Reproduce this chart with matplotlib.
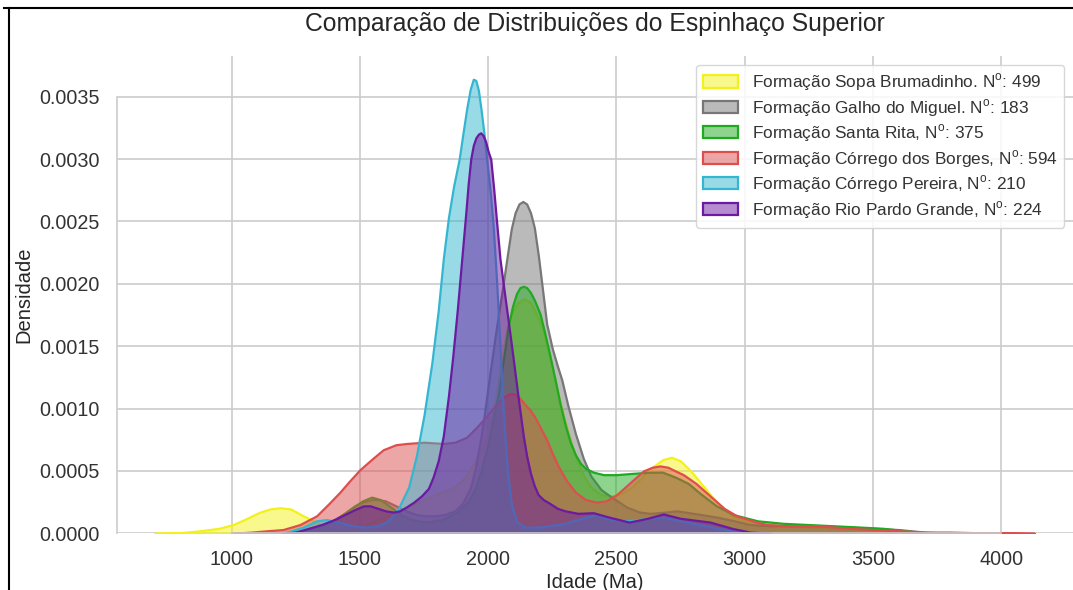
import numpy as np
import matplotlib
matplotlib.use("Agg")
import matplotlib.pyplot as plt
from matplotlib.lines import Line2D
from matplotlib.colors import to_rgba

plt.rcParams['font.family'] = ['Liberation Sans', 'DejaVu Sans']
plt.rcParams['mathtext.fontset'] = 'custom'
plt.rcParams['mathtext.rm'] = 'Liberation Sans'

# densities (age in Ma)
sopa_x = [700, 800, 876, 950, 1006, 1060, 1110, 1150, 1188, 1230, 1270, 1318, 1360, 1395,
          1450, 1500, 1560, 1620, 1680, 1721, 1780, 1830, 1868, 1910, 1950, 1975, 2000,
          2030, 2055, 2075, 2095, 2115, 2140, 2165, 2185, 2209, 2230, 2255, 2280, 2310,
          2340, 2370, 2400, 2440, 2480, 2520, 2560, 2600, 2640, 2680, 2715, 2750, 2790,
          2830, 2870, 2910, 2960, 3010, 3070, 3150, 3250, 3350, 3450, 3550, 3650, 3750]
sopa_y = [0, .000005, .00002, .00004, .00007, .00012, .00017, .000195, .000205, .000195,
          .00015, .0001, .00006, .00003, .00003, .00005, .0001, .00015, .0002, .00024,
          .0003, .00034, .00037, .00045, .00058, .00068, .0008, .0011, .00142, .00166,
          .00178, .00185, .00188, .00185, .00177, .00166, .0015, .00128, .00105, .00082,
          .00062, .00047, .00037, .00031, .0003, .00032, .00037, .00045, .00053, .00059,
          .00061, .00058, .0005, .0004, .0003, .00021, .00013, .00009, .00007, .00006,
          .00005, .00004, .00003, .00002, .00001, 0]

galho_x = [1150, 1250, 1300, 1350, 1400, 1440, 1480, 1510, 1546, 1570, 1600, 1640, 1680,
           1720, 1760, 1790, 1830, 1870, 1900, 1930, 1950, 1970, 1985, 2000, 2015, 2033,
           2055, 2072, 2090, 2105, 2120, 2135, 2150, 2165, 2180, 2196, 2212, 2228, 2250,
           2270, 2287, 2310, 2340, 2371, 2400, 2440, 2488, 2540, 2590, 2631, 2690, 2735,
           2800, 2891, 2960, 3020, 3100, 3200, 3300, 3400, 3500, 3600, 3700, 3800]
galho_y = [0, .00001, .00003, .00006, .00011, .00016, .00022, .00025, .00027, .00027,
           .00026, .00022, .00018, .00015, .00014, .00014, .00015, .00018, .00024,
           .00036, .00052, .00075, .00095, .00118, .0014, .00166, .00195, .00219, .00244,
           .00257, .00264, .00266, .00264, .00257, .00245, .00222, .00195, .00168, .00148,
           .00134, .00123, .00103, .0008, .0006, .00046, .00035, .00028, .00021, .00017,
           .00016, .00017, .00018, .00016, .00013, .0001, .00007, .00006, .00006, .00006,
           .00005, .00004, .00003, .00001, 0]

rita_x = [1200, 1300, 1400, 1460, 1510, 1546, 1580, 1620, 1660, 1700, 1760, 1820, 1880,
          1920, 1950, 1975, 2000, 2020, 2040, 2060, 2078, 2095, 2110, 2124, 2137, 2150,
          2165, 2180, 2202, 2220, 2240, 2261, 2280, 2300, 2320, 2340, 2360, 2380, 2410,
          2450, 2500, 2560, 2631, 2680, 2730, 2780, 2826, 2890, 2956, 3050, 3150, 3250,
          3350, 3450, 3540, 3670, 3750]
rita_y = [0, .00003, .0001, .00019, .00026, .00029, .00027, .00021, .00015, .00011,
          .00009, .00011, .00017, .00025, .00036, .00052, .00072, .00092, .00112, .0014,
          .00166, .00182, .00192, .00197, .00198, .00197, .00193, .00187, .00176, .00161,
          .00143, .00123, .00104, .00087, .00073, .00063, .00056, .00052, .00049, .00047,
          .00047, .00048, .00049, .00049, .00045, .0004, .00032, .00022, .00015, .0001,
          .00008, .00007, .00006, .00005, .00004, .00001, 0]

borges_x = [1000, 1080, 1136, 1200, 1266, 1331, 1380, 1422, 1460, 1500, 1550, 1591, 1640,
            1682, 1750, 1825, 1870, 1916, 1955, 1994, 2030, 2060, 2075, 2092, 2108, 2125,
            2140, 2163, 2185, 2205, 2228, 2250, 2275, 2306, 2340, 2380, 2423, 2460, 2501,
            2550, 2605, 2640, 2670, 2700, 2730, 2761, 2810, 2865, 2920, 2969, 3030, 3086,
            3180, 3280, 3350, 3410, 3500, 3606, 3700, 3800, 3900, 4000, 4130]
borges_y = [0, .00001, .00002, .00003, .00007, .00014, .00024, .00033, .00042, .00051,
            .0006, .00067, .00071, .00072, .00073, .00072, .00073, .00077, .00085, .00094,
            .00103, .00109, .00111, .00112, .00111, .00108, .00104, .00099, .00092, .00084,
            .00075, .00064, .00053, .00042, .00033, .00027, .00025, .00026, .00031, .0004,
            .0005, .00053, .00054, .00053, .0005, .00047, .0004, .0003, .0002, .00014,
            .0001, .00007, .00006, .00006, .00005, .00004, .00003, .00002, .00001, .00001,
            .000005, .000005, 0]

pereira_x = [1200, 1280, 1330, 1370, 1420, 1470, 1520, 1570, 1610, 1650, 1690, 1720, 1750,
             1780, 1805, 1825, 1845, 1865, 1887, 1902, 1916, 1930, 1942, 1952, 1962, 1972,
             1984, 1994, 2008, 2020, 2032, 2046, 2060, 2075, 2090, 2110, 2140, 2200, 2300,
             2360, 2420, 2480, 2550, 2620, 2680, 2750, 2850, 2950, 3050]
pereira_y = [0, .00005, .0001, .00011, .00009, .00006, .00005, .00006, .0001, .0002,
             .00037, .00062, .00095, .00136, .00178, .0022, .00253, .00278, .003, .00321,
             .0034, .00356, .00364, .00363, .00355, .0034, .0032, .003, .00274, .00245,
             .00205, .0015, .00095, .0005, .00024, .0001, .00005, .00005, .00008, .00012,
             .00015, .00011, .0001, .00012, .00013, .0001, .00006, .00002, 0]

pardo_x = [1200, 1250, 1300, 1350, 1400, 1450, 1480, 1513, 1540, 1570, 1600, 1630, 1655,
           1680, 1710, 1740, 1767, 1785, 1805, 1825, 1845, 1862, 1880, 1897, 1912, 1922,
           1932, 1942, 1952, 1962, 1971, 1980, 1990, 2000, 2010, 2022, 2034, 2046, 2060,
           2075, 2090, 2105, 2120, 2137, 2150, 2165, 2180, 2195, 2215, 2240, 2270, 2300,
           2350, 2410, 2470, 2550, 2620, 2683, 2750, 2865, 2950, 3020, 3100]
pardo_y = [0, .00001, .00004, .00007, .00011, .00016, .00019, .00022, .00022, .0002,
           .00018, .00017, .00018, .00021, .00025, .0003, .00036, .00045, .00058, .00078,
           .0011, .00142, .0018, .0022, .00255, .0028, .003, .00311, .00317, .0032,
           .00321, .00319, .00314, .00306, .003, .00275, .00247, .0022, .00198, .00175,
           .00152, .00128, .00104, .00078, .00062, .00048, .00038, .00031, .00027,
           .00024, .0002, .00018, .00016, .000165, .00013, .00009, .00012, .000155,
           .00012, .00009, .00004, .00001, 0]

series = [
    (sopa_x, sopa_y, '#f2f21a', r'Formação Sopa Brumadinho. N$^{\mathrm{o}}$: 499'),
    (galho_x, galho_y, '#777777', r'Formação Galho do Miguel. N$^{\mathrm{o}}$: 183'),
    (rita_x, rita_y, '#1faa1f', r'Formação Santa Rita, N$^{\mathrm{o}}$: 375'),
    (borges_x, borges_y, '#dd4f4f', r'Formação Córrego dos Borges, N$^{\mathrm{o}}$: 594'),
    (pereira_x, pereira_y, '#35b6d0', r'Formação Córrego Pereira, N$^{\mathrm{o}}$: 210'),
    (pardo_x, pardo_y, '#6c1aa0', r'Formação Rio Pardo Grande, N$^{\mathrm{o}}$: 224'),
]

fig = plt.figure(figsize=(10.73, 5.90), dpi=100)
W, H = 1073, 590
ax = fig.add_axes([116.5 / W, 1 - 533.3 / H, 1 - 116.5 / W, (533.3 - 56) / H])

for x, y, c, lab in series:
    ax.fill_between(x, y, 0, facecolor=to_rgba(c, 0.5), edgecolor=c,
                    linewidth=1.6, label=lab)

ax.set_xlim(551, 4280)
ax.set_ylim(0, 0.003826)
ax.set_xticks([1000, 1500, 2000, 2500, 3000, 3500, 4000])
yt = np.arange(0, 0.0036, 0.0005)
ax.set_yticks(yt)
ax.set_yticklabels([f"{v:.4f}" for v in yt])

ax.set_axisbelow(True)
ax.grid(True, color='#cccccc', linewidth=1.2)
for s in ['top', 'right']:
    ax.spines[s].set_visible(False)
ax.spines['left'].set_bounds(0, 0.0035)
ax.spines['bottom'].set_bounds(1000, 4000)
for s in ['left', 'bottom']:
    ax.spines[s].set_color('#cccccc')
    ax.spines[s].set_linewidth(1.2)
ax.tick_params(length=0, pad=12, labelsize=14.2, colors='#333333')

ax.set_title('Comparação de Distribuições do Espinhaço Superior',
             fontsize=17.8, color='#262626', pad=18)
ax.set_xlabel('Idade (Ma)', fontsize=14.5, color='#262626', labelpad=3)
ax.set_ylabel('Densidade', fontsize=14.5, color='#262626', labelpad=4)

leg = ax.legend(loc='upper right', fontsize=12.4, labelspacing=0.22,
                frameon=True, fancybox=True, edgecolor='#d0d0d0', framealpha=0.85)
for t in leg.get_texts():
    t.set_color('#333333')

# screenshot frame
fig.add_artist(Line2D([9 / W, 9 / W], [0, 1 - 8 / H], color='black', lw=1.5,
                      transform=fig.transFigure))
fig.add_artist(Line2D([4 / W, 1], [1 - 8 / H, 1 - 8 / H], color='black', lw=1.5,
                      transform=fig.transFigure))

fig.savefig('out.png', dpi=100)
